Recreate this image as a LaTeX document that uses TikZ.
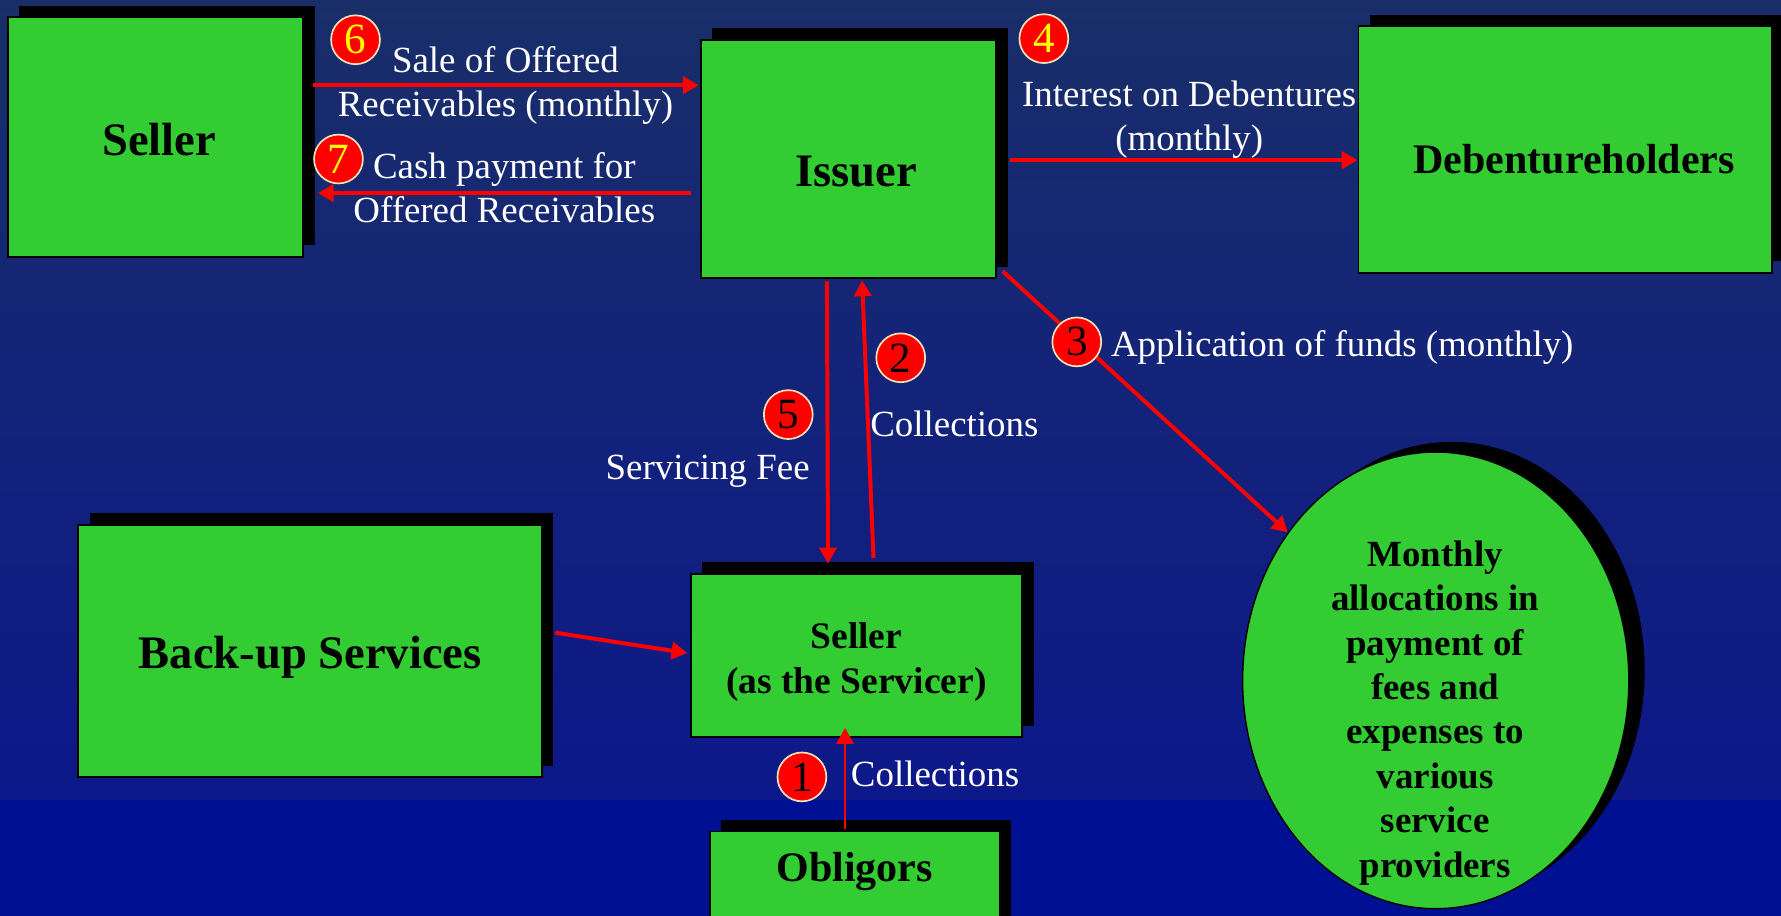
\documentclass[tikz,border=0pt]{standalone}
\usepackage{fontspec}
\setmainfont{Liberation Serif}
\usetikzlibrary{arrows.meta,shapes.geometric,shadows,calc}
\definecolor{boxgreen}{RGB}{51,204,51}
\definecolor{bgtop}{RGB}{25,46,105}
\definecolor{bgbot}{RGB}{13,24,138}
\definecolor{bgband}{RGB}{0,16,146}
\definecolor{cream}{RGB}{240,225,185}
\definecolor{digyellow}{RGB}{255,255,0}
\definecolor{arrred}{RGB}{255,0,0}
\newcommand\fntbig{\fontsize{41}{49}\selectfont\bfseries}
\newcommand\fntmid{\fontsize{37}{44}\selectfont\bfseries}
\newcommand\fntsml{\fontsize{33}{40}\selectfont\bfseries}
\newcommand\fntell{\fontsize{32.5}{39.1}\selectfont\bfseries}
\newcommand\fntlab{\fontsize{32.5}{38.5}\selectfont}
\newcommand\fntdig{\fontsize{38}{38}\selectfont}
\begin{document}
\begin{tikzpicture}[x=1pt,y=-1pt,
  box/.style={draw=black, line width=1.6pt, fill=boxgreen, inner sep=0pt, align=center,
    drop shadow={shadow xshift=10pt, shadow yshift=10pt, fill=black, opacity=1}},
  ellbox/.style={ellipse, draw=black, line width=1.2pt, fill=boxgreen, inner sep=0pt,
    drop shadow={shadow xshift=14pt, shadow yshift=9pt, fill=black, opacity=1}},
  lbl/.style={text=white, inner sep=0pt, font=\fntlab},
  num/.style={circle, fill=arrred, draw=cream, line width=1.5pt, minimum size=43pt, inner sep=0pt, font=\fntdig},
  numy/.style={num, text=digyellow},
  numb/.style={num, text=black},
  arr/.style={draw=arrred, line width=3.5pt, -{Triangle[length=14pt,width=15pt]}},
  arrthin/.style={arr, line width=2.4pt}]
\useasboundingbox (0,0) rectangle (1568,806);
\clip (0,0) rectangle (1568,806);
% background
\shade[top color=bgtop, bottom color=bgbot] (0,0) rectangle (1568,704);
\fill[bgband] (0,704) rectangle (1568,806);
% boxes
\node[box, minimum width=260pt, minimum height=211pt, font=\fntbig, text height=32pt, text depth=0pt] (seller) at (137,120.5) {\hspace*{6pt}Seller};
\node[box, minimum width=260pt, minimum height=210pt, font=\fntbig, text height=48pt, text depth=0pt] (issuer) at (747,140) {\hspace*{14pt}Issuer};
\node[box, minimum width=364pt, minimum height=217pt, font=\fntmid, text height=42pt, text depth=0pt] (deb) at (1378,131.5) {\hspace*{16pt}Debentureholders};
\node[box, minimum width=408pt, minimum height=222pt, font=\fntbig, text height=31pt, text depth=0pt] (backup) at (273,573) {Back-up Services};
\node[box, minimum width=292pt, minimum height=144pt, font=\fntsml] (serv) at (754,577) {\rule{0pt}{35pt}Seller\\(as the Servicer)};
\node[box, minimum width=255pt, minimum height=120pt, font=\fntmid, text height=0pt, text depth=32pt] (obl) at (752.5,792) {Obligors};
\node[ellbox, minimum width=340pt, minimum height=402pt] (ell) at (1264,599) {};
\node[font=\fntell, align=center, inner sep=0pt] (elltext) at (1263.5,627.5)
  {Monthly\\allocations in\\payment of\\fees and\\expenses to\\various\\service\\providers};
% connectors
\draw[arr] ($(seller.east |- 0,75)+(8,0)$) -- ($(issuer.west |- 0,75)+(-1,0)$);
\draw[arr] ($(issuer.west |- 0,170)+(-8,0)$) -- ($(seller.east |- 0,170)+(12,0)$);
\draw[arr] ($(issuer.east |- 0,141)+(11,0)$) -- (deb.west |- 0,141);
\draw[arr] ($(issuer.south east)+(5,-7)$) -- (ell.135);
\draw[arr] ($(issuer.south)+(-19,2)$) -- ($(serv.north)+(-25,-8)$);
\draw[arr] ($(serv.north)+(15,-13)$) -- ($(issuer.south)+(12,1)$);
\draw[arr] ($(backup.east)+(11,-16)$) -- ($(serv.west)+(-2,-2)$);
\draw[arrthin] ($(obl.north)+(-8.5,-1)$) -- ($(serv.south)+(-10,-9)$);
% labels
\node[lbl, align=center] (t6) at (445,75) {Sale of Offered\\Receivables (monthly)};
\node[lbl, align=center] (t7) at (444,165) {Cash payment for\\Offered Receivables};
\node[lbl, align=center] (t4) at (1047,105.5) {Interest on Debentures\\(monthly)};
\node[lbl, anchor=base west] (t3) at (978,314) {Application of funds (monthly)};
\node[lbl, anchor=base west] (t2) at (766,384) {Collections};
\node[lbl, anchor=base west] (t5) at (533,422) {Servicing Fee};
\node[lbl, anchor=base west] (t1) at (749,692) {Collections};
% numbers
\node[numy] (n6) at (313,35) {6};
\node[numy] (n7) at (298,140) {7};
\node[numy] (n4) at (919,34) {4};
\node[numb] (n3) at (948,301) {3};
\node[numb] (n2) at (793,315) {2};
\node[numb] (n5) at (694,365) {5};
\node[numb] (n1) at (706,684) {1};
\end{tikzpicture}
\end{document}
